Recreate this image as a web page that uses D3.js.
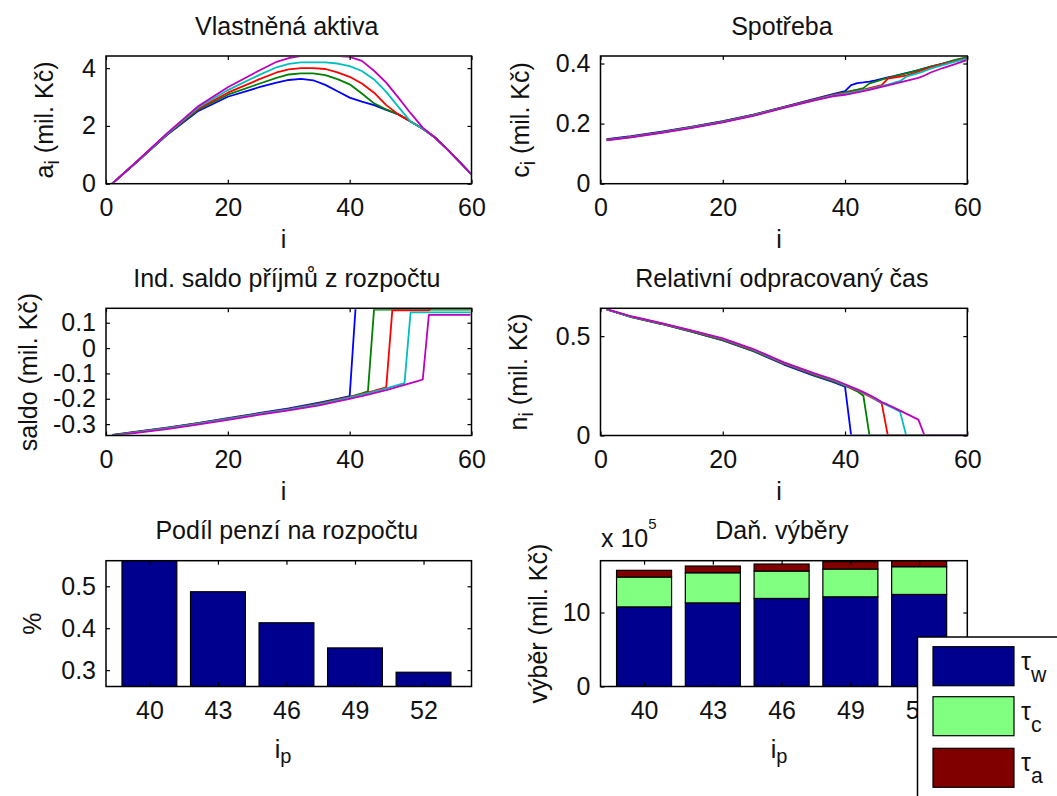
<!DOCTYPE html>
<html>
<head>
<meta charset="utf-8">
<script src="https://cdn.jsdelivr.net/npm/d3@7"></script>
<style>
  body { margin: 0; background: #ffffff; }
  svg text { font-family: "Liberation Sans", Arial, Helvetica, sans-serif; fill: #111; }
</style>
</head>
<body>
<svg id="fig" width="1057" height="796"></svg>
<script>
// ---------- data ----------
// retirement ages of the five scenarios (one line colour each)
const pensionAges = [40, 43, 46, 49, 52];
const lineColors = ["#0000ff", "#008000", "#ff0000", "#00bfbf", "#bf00bf"];

// owned assets a_i (mil. Kč)
const assetsI = [1, 5, 10, 15, 20, 25, 28, 30, 32, 34, 36, 38, 40, 42, 44, 46, 48, 50, 52, 54, 56, 58, 60];
const assets40 = [0, 0.74, 1.68, 2.5, 3.01, 3.33, 3.5, 3.59, 3.63, 3.58, 3.42, 3.2, 2.98, 2.84, 2.72, 2.55, 2.4, 2.15, 1.9, 1.6, 1.2, 0.76, 0.32];
const assets43 = [0, 0.74, 1.7, 2.54, 3.08, 3.45, 3.66, 3.78, 3.82, 3.82, 3.76, 3.62, 3.44, 3.12, 2.78, 2.57, 2.4, 2.15, 1.9, 1.6, 1.2, 0.76, 0.32];
const assets46 = [0, 0.75, 1.71, 2.58, 3.15, 3.6, 3.85, 3.96, 4.0, 4.0, 3.97, 3.85, 3.7, 3.47, 3.15, 2.72, 2.4, 2.15, 1.9, 1.6, 1.2, 0.76, 0.32];
const assets49 = [0, 0.75, 1.72, 2.62, 3.24, 3.75, 4.03, 4.15, 4.2, 4.2, 4.2, 4.16, 4.07, 3.9, 3.61, 3.18, 2.66, 2.15, 1.9, 1.6, 1.2, 0.76, 0.32];
const assets52 = [0, 0.76, 1.74, 2.66, 3.34, 3.9, 4.22, 4.35, 4.42, 4.42, 4.42, 4.42, 4.39, 4.25, 3.91, 3.5, 2.98, 2.44, 1.94, 1.6, 1.2, 0.76, 0.32];

// consumption c_i (mil. Kč)
const consI = [1, 5, 10, 15, 20, 25, 30, 35, 38, 40, 41, 42, 43, 44, 45, 46, 47, 48, 49, 50, 51, 52, 53, 54, 56, 58, 60];
const cons40 = [0.148, 0.158, 0.173, 0.19, 0.208, 0.23, 0.256, 0.282, 0.298, 0.308, 0.328, 0.335, 0.337, 0.34, 0.344, 0.349, 0.354, 0.358, 0.363, 0.368, 0.373, 0.378, 0.384, 0.39, 0.4, 0.41, 0.42];
const cons43 = [0.147, 0.157, 0.172, 0.189, 0.207, 0.229, 0.255, 0.281, 0.296, 0.305, 0.309, 0.313, 0.318, 0.334, 0.34, 0.346, 0.352, 0.357, 0.362, 0.367, 0.372, 0.378, 0.384, 0.39, 0.4, 0.412, 0.421];
const cons46 = [0.146, 0.156, 0.171, 0.188, 0.206, 0.228, 0.254, 0.28, 0.295, 0.302, 0.305, 0.309, 0.313, 0.318, 0.323, 0.328, 0.35, 0.353, 0.356, 0.36, 0.366, 0.373, 0.38, 0.387, 0.398, 0.408, 0.418];
const cons49 = [0.145, 0.155, 0.17, 0.187, 0.205, 0.227, 0.253, 0.278, 0.293, 0.3, 0.303, 0.307, 0.311, 0.315, 0.32, 0.325, 0.33, 0.336, 0.341, 0.356, 0.362, 0.368, 0.375, 0.383, 0.395, 0.406, 0.416];
const cons52 = [0.144, 0.154, 0.169, 0.186, 0.204, 0.226, 0.252, 0.277, 0.291, 0.296, 0.3, 0.304, 0.308, 0.312, 0.317, 0.322, 0.327, 0.332, 0.337, 0.342, 0.347, 0.352, 0.36, 0.37, 0.385, 0.398, 0.412];

// individual budget balance (mil. Kč)
const saldoI = [1, 5, 10, 15, 20, 25, 30, 35, 38, 40, 41, 42, 43, 44, 45, 46, 47, 48, 49, 50, 51, 52, 53, 54, 60];
const saldo40 = [-0.343, -0.33, -0.314, -0.296, -0.276, -0.257, -0.238, -0.215, -0.2, -0.19, 0.17, 0.17, 0.17, 0.17, 0.17, 0.17, 0.17, 0.17, 0.17, 0.17, 0.17, 0.17, 0.17, 0.17, 0.17];
const saldo43 = [-0.344, -0.331, -0.315, -0.297, -0.278, -0.259, -0.241, -0.218, -0.202, -0.193, -0.186, -0.179, -0.171, 0.152, 0.152, 0.152, 0.152, 0.152, 0.152, 0.152, 0.152, 0.152, 0.152, 0.152, 0.152];
const saldo46 = [-0.345, -0.332, -0.316, -0.298, -0.279, -0.26, -0.242, -0.22, -0.204, -0.194, -0.188, -0.182, -0.175, -0.169, -0.162, -0.155, 0.149, 0.149, 0.149, 0.149, 0.149, 0.149, 0.149, 0.17, 0.17];
const saldo49 = [-0.346, -0.333, -0.317, -0.299, -0.28, -0.261, -0.243, -0.222, -0.206, -0.196, -0.19, -0.184, -0.178, -0.172, -0.166, -0.159, -0.152, -0.145, -0.138, 0.141, 0.141, 0.141, 0.141, 0.141, 0.141];
const saldo52 = [-0.347, -0.335, -0.32, -0.302, -0.283, -0.264, -0.246, -0.226, -0.21, -0.2, -0.195, -0.19, -0.184, -0.178, -0.172, -0.166, -0.159, -0.152, -0.145, -0.138, -0.131, -0.124, 0.131, 0.131, 0.131];

// relative working time n_i
const workI = [1, 5, 10, 15, 20, 25, 30, 35, 38, 40, 41, 42, 43, 44, 45, 46, 47, 48, 49, 50, 51, 52, 53, 60];
const work40 = [0.635, 0.597, 0.561, 0.521, 0.479, 0.424, 0.357, 0.3, 0.27, 0.246, 0, 0, 0, 0, 0, 0, 0, 0, 0, 0, 0, 0, 0, 0];
const work43 = [0.635, 0.596, 0.561, 0.522, 0.48, 0.426, 0.36, 0.303, 0.273, 0.25, 0.237, 0.222, 0.2, 0, 0, 0, 0, 0, 0, 0, 0, 0, 0, 0];
const work46 = [0.635, 0.598, 0.563, 0.525, 0.484, 0.43, 0.363, 0.307, 0.277, 0.253, 0.24, 0.227, 0.212, 0.197, 0.18, 0.162, 0, 0, 0, 0, 0, 0, 0, 0];
const work49 = [0.635, 0.598, 0.564, 0.526, 0.486, 0.432, 0.365, 0.31, 0.28, 0.255, 0.242, 0.229, 0.214, 0.2, 0.183, 0.165, 0.15, 0.136, 0.12, 0, 0, 0, 0, 0];
const work52 = [0.636, 0.6, 0.566, 0.528, 0.489, 0.435, 0.368, 0.313, 0.283, 0.258, 0.245, 0.232, 0.218, 0.204, 0.187, 0.168, 0.155, 0.14, 0.125, 0.11, 0.095, 0.08, 0, 0];

// pension share of the budget (%)
const pensionShare = [0.561, 0.487, 0.413, 0.353, 0.295];

// tax revenues (x 10^5 mil. Kč), stacked
const taxW = [10.76, 11.3, 11.9, 12.12, 12.44];
const taxC = [4.03, 4.07, 3.7, 3.75, 3.75];
const taxA = [0.91, 0.91, 0.95, 1.0, 1.0];
const taxColors = ["#00008f", "#80ff80", "#800000"];
const taxKeys = ["w", "c", "a"];

// tick values and labels
const lineXTicks = [0, 20, 40, 60];
const lineXTickLabels = ["0", "20", "40", "60"];
const assetsYTicks = [0, 2, 4];
const assetsYTickLabels = ["0", "2", "4"];
const consYTicks = [0, 0.2, 0.4];
const consYTickLabels = ["0", "0.2", "0.4"];
const saldoYTicks = [-0.3, -0.2, -0.1, 0, 0.1];
const saldoYTickLabels = ["-0.3", "-0.2", "-0.1", "0", "0.1"];
const workYTicks = [0, 0.5];
const workYTickLabels = ["0", "0.5"];
const shareYTicks = [0.3, 0.4, 0.5];
const shareYTickLabels = ["0.3", "0.4", "0.5"];
const taxYTicks = [0, 10];
const taxYTickLabels = ["0", "10"];
const barXTickLabels = ["40", "43", "46", "49", "52"];

// ---------- drawing ----------
const svg = d3.select("#fig");
svg.append("rect").attr("width", 1057).attr("height", 796).attr("fill", "#fff");
const FS = 25;
const cols = [{ left: 106, right: 471.5 }, { left: 600.5, right: 967.3 }];
const rows = [{ top: 56, bottom: 183.7 }, { top: 308.3, bottom: 435.5 }, { top: 560.7, bottom: 686.5 }];
let clipCount = 0;

function styleAxis(g) {
  g.attr("font-size", FS).attr("font-family", null);
  g.select(".domain").remove();
  g.selectAll(".tick line").attr("stroke", "#000").attr("stroke-width", 1.2);
  g.selectAll(".tick text").attr("fill", "#111");
}

function makeAxes(box, x, y, xTicks, xLabels, yTicks, yLabels) {
  const xf = (d, i) => xLabels[i];
  const yf = (d, i) => yLabels[i];
  svg.append("g").attr("transform", `translate(0,${box.bottom})`)
    .call(d3.axisBottom(x).tickValues(xTicks).tickFormat(xf).tickSizeInner(-4).tickSizeOuter(0).tickPadding(15))
    .call(styleAxis);
  svg.append("g").attr("transform", `translate(0,${box.top})`)
    .call(d3.axisTop(x).tickValues(xTicks).tickFormat("").tickSizeInner(-4).tickSizeOuter(0))
    .call(styleAxis);
  svg.append("g").attr("transform", `translate(${box.left},0)`)
    .call(d3.axisLeft(y).tickValues(yTicks).tickFormat(yf).tickSizeInner(-4).tickSizeOuter(0).tickPadding(10))
    .call(styleAxis);
  svg.append("g").attr("transform", `translate(${box.right},0)`)
    .call(d3.axisRight(y).tickValues(yTicks).tickFormat("").tickSizeInner(-4).tickSizeOuter(0))
    .call(styleAxis);
  svg.append("rect")
    .attr("x", box.left).attr("y", box.top)
    .attr("width", box.right - box.left).attr("height", box.bottom - box.top)
    .attr("fill", "none").attr("stroke", "#000").attr("stroke-width", 1.5);
}

function clipFor(box, inset) {
  const id = "clip" + (clipCount++);
  svg.append("clipPath").attr("id", id).append("rect")
    .attr("x", box.left + inset).attr("y", box.top + inset)
    .attr("width", box.right - box.left - 2 * inset).attr("height", box.bottom - box.top - 2 * inset);
  return `url(#${id})`;
}

function title(box, text) {
  svg.append("text").attr("x", (box.left + box.right) / 2 - 2).attr("y", box.top - 21.5)
    .attr("text-anchor", "middle").attr("font-size", FS).text(text);
}

// rotated y label; parts = [[text, isSubscript], ...]
function yLabel(xBase, yCenter, parts) {
  const t = svg.append("text").attr("font-size", FS).attr("text-anchor", "middle")
    .attr("transform", `translate(${xBase},${yCenter}) rotate(-90)`);
  let shifted = false;
  parts.forEach(([s, sub]) => {
    const ts = t.append("tspan").text(s);
    if (sub) { ts.attr("font-size", FS * 0.8).attr("dy", 6); shifted = true; }
    else if (shifted) { ts.attr("dy", -6); shifted = false; }
  });
}

function xLabel(xCenter, yBase, parts) {
  const t = svg.append("text").attr("font-size", FS).attr("text-anchor", "middle")
    .attr("x", xCenter).attr("y", yBase);
  parts.forEach(([s, sub]) => {
    const ts = t.append("tspan").text(s);
    if (sub) ts.attr("font-size", FS * 0.8).attr("dy", 5);
  });
}

function linePanel(box, iVals, series, yDomain, yTicks, yLabels) {
  const x = d3.scaleLinear().domain([0, 60]).range([box.left, box.right]);
  const y = d3.scaleLinear().domain(yDomain).range([box.bottom, box.top]);
  const line = d3.line().x(d => x(d[0])).y(d => y(d[1]));
  const g = svg.append("g").attr("clip-path", clipFor(box, 1));
  series.forEach((vals, k) => {
    g.append("path")
      .datum(iVals.map((iv, j) => [iv, vals[j]]))
      .attr("d", line)
      .attr("fill", "none")
      .attr("stroke", lineColors[k])
      .attr("stroke-width", 1.8)
      .attr("stroke-linejoin", "round");
  });
  makeAxes(box, x, y, lineXTicks, lineXTickLabels, yTicks, yLabels);
}

const P1 = { ...cols[0], ...rows[0] };
const P2 = { ...cols[1], ...rows[0] };
const P3 = { ...cols[0], ...rows[1] };
const P4 = { ...cols[1], ...rows[1] };
const P5 = { ...cols[0], ...rows[2] };
const P6 = { ...cols[1], ...rows[2] };

// Owned assets
linePanel(P1, assetsI, [assets40, assets43, assets46, assets49, assets52], [0, 4.42], assetsYTicks, assetsYTickLabels);
title(P1, "Vlastněná aktiva");
yLabel(53, 120, [["a", false], ["i", true], [" (mil. Kč)", false]]);
xLabel(283.5, 248, [["i", false]]);

// Consumption
linePanel(P2, consI, [cons40, cons43, cons46, cons49, cons52], [0, 0.425], consYTicks, consYTickLabels);
title(P2, "Spotřeba");
yLabel(529, 120, [["c", false], ["i", true], [" (mil. Kč)", false]]);
xLabel(779, 248, [["i", false]]);

// Individual budget balance
linePanel(P3, saldoI, [saldo40, saldo43, saldo46, saldo49, saldo52], [-0.345, 0.157], saldoYTicks, saldoYTickLabels);
title(P3, "Ind. saldo příjmů z rozpočtu");
yLabel(37, 372, [["saldo (mil. Kč)", false]]);
xLabel(283.5, 499.5, [["i", false]]);

// Relative working time
linePanel(P4, workI, [work40, work43, work46, work49, work52], [0, 0.64], workYTicks, workYTickLabels);
title(P4, "Relativní odpracovaný čas");
yLabel(527, 372, [["n", false], ["i", true], [" (mil. Kč)", false]]);
xLabel(779, 499.5, [["i", false]]);

// Pension share of the budget
{
  const box = P5;
  const x = d3.scaleLinear().domain([38.1, 54.1]).range([box.left, box.right]);
  const y = d3.scaleLinear().domain([0.261, 0.561]).range([box.bottom, box.top]);
  const g = svg.append("g").attr("clip-path", clipFor(box, 0));
  g.selectAll("rect").data(pensionAges).join("rect")
    .attr("x", d => x(d - 1.2))
    .attr("width", x(1.2) - x(-1.2))
    .attr("y", (d, i) => y(pensionShare[i]))
    .attr("height", (d, i) => y(0) - y(pensionShare[i]))
    .attr("fill", "#00008f").attr("stroke", "#000").attr("stroke-width", 1.2);
  makeAxes(box, x, y, pensionAges, barXTickLabels, shareYTicks, shareYTickLabels);
  title(box, "Podíl penzí na rozpočtu");
  yLabel(40.5, 623.6, [["%", false]]);
  xLabel(283, 758, [["i", false], ["p", true]]);
}

// Tax revenues, stacked
{
  const box = P6;
  const x = d3.scaleLinear().domain([38.1, 54.1]).range([box.left, box.right]);
  const y = d3.scaleLinear().domain([0, 17.0]).range([box.bottom, box.top]);
  const rowsData = pensionAges.map((a, i) => ({ age: a, w: taxW[i], c: taxC[i], a: taxA[i] }));
  const stacked = d3.stack().keys(taxKeys)(rowsData);
  const g = svg.append("g").attr("clip-path", clipFor(box, 0));
  stacked.forEach((layer, k) => {
    g.append("g").selectAll("rect").data(layer).join("rect")
      .attr("x", d => x(d.data.age - 1.2))
      .attr("width", x(1.2) - x(-1.2))
      .attr("y", d => y(d[1]))
      .attr("height", d => y(d[0]) - y(d[1]))
      .attr("fill", taxColors[k]).attr("stroke", "#000").attr("stroke-width", 1.2);
  });
  makeAxes(box, x, y, pensionAges, barXTickLabels, taxYTicks, taxYTickLabels);
  title(box, "Daň. výběry");
  yLabel(547, 623.6, [["výběr (mil. Kč)", false]]);
  xLabel(779, 758, [["i", false], ["p", true]]);

  // axis exponent
  const ex = svg.append("text").attr("x", 601).attr("y", 546.5).attr("font-size", FS);
  ex.append("tspan").text("x 10");
  ex.append("tspan").attr("font-size", 15).attr("dy", -18).text("5");

  // legend
  const lg = svg.append("g");
  lg.append("rect").attr("x", 917.5).attr("y", 637).attr("width", 200).attr("height", 200)
    .attr("fill", "#fff").attr("stroke", "#000").attr("stroke-width", 1.5);
  const swTop = [646.7, 696.7, 748.3];
  taxKeys.forEach((key, k) => {
    lg.append("rect").attr("x", 933).attr("y", swTop[k]).attr("width", 81).attr("height", 39)
      .attr("fill", taxColors[k]).attr("stroke", "#000").attr("stroke-width", 1.2);
    const t = lg.append("text").attr("x", 1021).attr("y", swTop[k] + 23).attr("font-size", FS);
    t.append("tspan").text("τ");
    t.append("tspan").attr("font-size", FS * 0.85).attr("dy", 12).text(key);
  });
}
</script>
</body>
</html>
